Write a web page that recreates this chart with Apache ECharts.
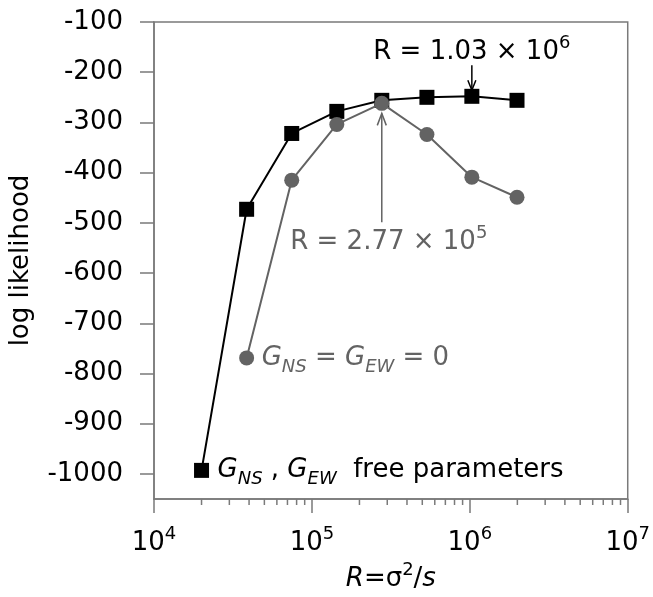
<!DOCTYPE html>
<html><head><meta charset="utf-8">
<script src="https://cdn.jsdelivr.net/npm/echarts@6/dist/echarts.min.js"></script>
<style>html,body{margin:0;padding:0;background:#fff}#c{width:653px;height:597px}</style>
</head><body><div id="c"></div>
<script>
// ---- data ----
const xValues = [20000, 38600, 74500, 143800, 277000, 535000, 1030000, 1990000];
const freeParams = [-993, -473, -322, -278, -256, -250, -248, -256];
const zeroX = [38600, 74500, 143800, 277000, 535000, 1030000, 1990000];
const zeroG = [-769, -415, -304, -262, -324, -409, -449];
const yTicks = [-1000, -900, -800, -700, -600, -500, -400, -300, -200, -100];
const xMinorTicks = [2e4,3e4,4e4,5e4,6e4,7e4,8e4,9e4, 2e5,3e5,4e5,5e5,6e5,7e5,8e5,9e5, 2e6,3e6,4e6,5e6,6e6,7e6,8e6,9e6];
const xRange = [1e4, 1e7];
const yRange = [-1050, -100];
// annotations (data-space anchors)
const annMaxFree = {x: 1030000, textY: -160, from: -186, to: -236};
const annMaxZero = {x: 277000, textY: -539, from: -499, to: -282};
const labelZeroAt = [38600, -769];
const labelFreeAt = [20000, -993];

const FONT = 'DejaVu Sans';
const AX = '#7a7a7a';
const GRAY = '#636363';

const chart = echarts.init(document.getElementById('c'));
const supRich = {
  n: {fontFamily: FONT, fontSize: 26, color: '#000', lineHeight: 36},
  sup: {fontFamily: FONT, fontSize: 18, color: '#000', lineHeight: 14, verticalAlign: 'top'}
};
const nameRich = {
  n: {fontFamily: FONT, fontSize: 26, color: '#000', lineHeight: 36},
  ri: {fontFamily: FONT, fontSize: 26, fontStyle: 'italic', color: '#000', lineHeight: 36},
  sup: {fontFamily: FONT, fontSize: 18, color: '#000', lineHeight: 14, verticalAlign: 'top'}
};

chart.setOption({
  animation: false,
  grid: {left: 154, right: 21, top: 22, bottom: 98, show: true, borderColor: AX, borderWidth: 1.5},
  xAxis: {
    type: 'log', logBase: 10, min: xRange[0], max: xRange[1],
    axisLine: {show: true, lineStyle: {color: AX, width: 1.5}},
    axisTick: {show: true, length: 14, lineStyle: {color: AX, width: 1.5}},
    splitLine: {show: false}, minorTick: {show: false}, minorSplitLine: {show: false},
    axisLabel: {margin: 26, formatter: v => '{n|10}{sup|' + Math.round(Math.log10(v)) + '}', rich: supRich},
    name: '{ri|R}{n|=σ}{sup|2}{n|/}{ri|s}', nameLocation: 'middle', nameGap: 61,
    nameTextStyle: {rich: nameRich}
  },
  yAxis: {
    type: 'value', min: yRange[0], max: yRange[1],
    axisLine: {show: true, lineStyle: {color: AX, width: 1.5}},
    axisTick: {show: true, length: 14, customValues: yTicks, lineStyle: {color: AX, width: 1.5}},
    splitLine: {show: false},
    axisLabel: {customValues: yTicks, margin: 31, formatter: v => String(v), fontFamily: FONT, fontSize: 26, color: '#000'},
    name: 'log likelihood', nameLocation: 'middle', nameGap: 120, nameRotate: 90,
    nameTextStyle: {fontFamily: FONT, fontSize: 26, color: '#000'}
  },
  series: [
    {type: 'line', data: xValues.map((x, i) => [x, freeParams[i]]), symbol: 'rect', symbolSize: 15,
     lineStyle: {color: '#000', width: 2}, itemStyle: {color: '#000'}, z: 3, silent: true},
    {type: 'line', data: zeroX.map((x, i) => [x, zeroG[i]]), symbol: 'circle', symbolSize: 15,
     lineStyle: {color: GRAY, width: 2}, itemStyle: {color: GRAY}, z: 4, silent: true},
    {type: 'custom', clip: false, silent: true, data: xMinorTicks.map(v => [v, yRange[0]]),
     encode: {x: 0, y: 1},
     renderItem: (params, api) => {
       const p = api.coord([api.value(0), api.value(1)]);
       return {type: 'line', shape: {x1: p[0], y1: p[1], x2: p[0], y2: p[1] + 6},
               style: {stroke: AX, lineWidth: 1.5}};
     }}
  ]
});

const px = (x, y) => chart.convertToPixel({xAxisIndex: 0, yAxisIndex: 0}, [x, y]);
const tBlack = {
  n: {fontFamily: FONT, fontSize: 26, fill: '#000', lineHeight: 36},
  sup: {fontFamily: FONT, fontSize: 18, fill: '#000', lineHeight: 14, verticalAlign: 'top'}
};
const tGray = {
  n: {fontFamily: FONT, fontSize: 26, fill: GRAY, lineHeight: 36},
  sup: {fontFamily: FONT, fontSize: 18, fill: GRAY, lineHeight: 14, verticalAlign: 'top'}
};
const gRich = (c) => ({
  n: {fontFamily: FONT, fontSize: 26, fill: c, lineHeight: 36},
  gi: {fontFamily: FONT, fontSize: 26, fontStyle: 'italic', fill: c, lineHeight: 36},
  sub: {fontFamily: FONT, fontSize: 18, fontStyle: 'italic', fill: c, lineHeight: 14, verticalAlign: 'bottom'}
});

const a1t = px(annMaxFree.x, annMaxFree.textY);
const a1f = px(annMaxFree.x, annMaxFree.from);
const a1e = px(annMaxFree.x, annMaxFree.to);
const a2t = px(annMaxZero.x, annMaxZero.textY);
const a2f = px(annMaxZero.x, annMaxZero.from);
const a2e = px(annMaxZero.x, annMaxZero.to);
const lz = px(labelZeroAt[0], labelZeroAt[1]);
const lf = px(labelFreeAt[0], labelFreeAt[1]);

chart.setOption({
  graphic: [
    {type: 'text', silent: true, style: {text: '{n|R = 1.03 × 10}{sup|6}', rich: tBlack, x: a1t[0], y: a1t[1], align: 'center', verticalAlign: 'middle'}},
    {type: 'line', silent: true, shape: {x1: a1f[0], y1: a1f[1], x2: a1e[0], y2: a1e[1]}, style: {stroke: '#000', lineWidth: 1.5}},
    {type: 'polyline', silent: true, shape: {points: [[a1e[0] - 4, a1e[1] - 10], [a1e[0], a1e[1]], [a1e[0] + 4, a1e[1] - 10]]}, style: {stroke: '#000', lineWidth: 1.5, fill: null}},
    {type: 'text', silent: true, style: {text: '{n|R = 2.77 × 10}{sup|5}', rich: tGray, x: a2t[0] + 7, y: a2t[1], align: 'center', verticalAlign: 'middle'}},
    {type: 'line', silent: true, shape: {x1: a2f[0], y1: a2f[1], x2: a2e[0], y2: a2e[1]}, style: {stroke: GRAY, lineWidth: 1.5}},
    {type: 'polyline', silent: true, shape: {points: [[a2e[0] - 4.5, a2e[1] + 12], [a2e[0], a2e[1]], [a2e[0] + 4.5, a2e[1] + 12]]}, style: {stroke: GRAY, lineWidth: 1.5, fill: null}},
    {type: 'text', silent: true, style: {text: '{gi|G}{sub|NS}{n| = }{gi|G}{sub|EW}{n| = 0}', rich: gRich(GRAY), x: lz[0] + 15, y: lz[1], align: 'left', verticalAlign: 'middle'}},
    {type: 'text', silent: true, style: {text: '{gi|G}{sub|NS}{n| , }{gi|G}{sub|EW}{n|  free parameters}', rich: gRich('#000'), x: lf[0] + 16, y: lf[1], align: 'left', verticalAlign: 'middle'}}
  ]
});
</script>
</body></html>
